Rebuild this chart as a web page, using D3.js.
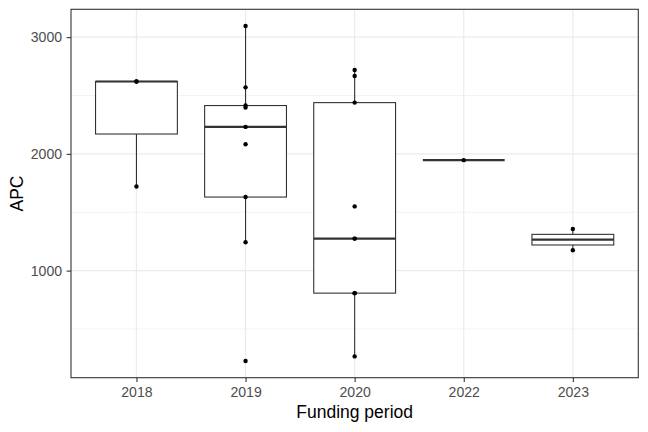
<!DOCTYPE html>
<html>
<head>
<meta charset="utf-8">
<script src="https://cdn.jsdelivr.net/npm/d3@7"></script>
<style>
	body { margin: 0; background: #fff; }
	text { font-family: "Liberation Sans", Arial, sans-serif; }
</style>
</head>
<body>
<svg id="chart" width="648" height="432"></svg>
<script>
'use strict'

// categories and APC values per funding period
const periods = ['2018', '2019', '2020', '2022', '2023'];
const apc2018 = [1720, 2620, 2620];
const apc2019 = [226, 1243, 1630, 2083, 2231, 2397, 2414, 2570, 3095];
const apc2020 = [265, 807, 807, 1274, 1274, 1550, 2439, 2667, 2718];
const apc2022 = [1946];
const apc2023 = [1174, 1356];
const yTicks = [1000, 2000, 3000];
const yMinor = [500, 1500, 2500];

const series = [apc2018, apc2019, apc2020, apc2022, apc2023];

let width = 648,
	height = 432,
	margin = {top: 9.3, right: 9.7, bottom: 54.3, left: 71};

let svg = d3.select('#chart');

let all = series.flat(),
	lo = d3.min(all),
	hi = d3.max(all),
	pad = (hi - lo) * 0.05;

let x = d3.scalePoint()
	.domain(periods)
	.range([margin.left, width - margin.right])
	.padding(0.6);

let y = d3.scaleLinear()
	.domain([lo - pad, hi + pad])
	.range([height - margin.bottom, margin.top]);

let step = x.step(),
	boxW = step * 0.75;

// grid
let grid = svg.append('g');
grid.selectAll('.minor').data(yMinor).enter().append('line')
	.attr('x1', margin.left).attr('x2', width - margin.right)
	.attr('y1', d => y(d)).attr('y2', d => y(d))
	.attr('stroke', '#EBEBEB').attr('stroke-width', 0.6);
grid.selectAll('.major').data(yTicks).enter().append('line')
	.attr('x1', margin.left).attr('x2', width - margin.right)
	.attr('y1', d => y(d)).attr('y2', d => y(d))
	.attr('stroke', '#EBEBEB').attr('stroke-width', 1.2);
grid.selectAll('.vmajor').data(periods).enter().append('line')
	.attr('x1', d => x(d)).attr('x2', d => x(d))
	.attr('y1', margin.top).attr('y2', height - margin.bottom)
	.attr('stroke', '#EBEBEB').attr('stroke-width', 1.2);

// boxplots
let stats = series.map(function(vals, i) {
	let s = vals.slice().sort(d3.ascending),
		q1 = d3.quantile(s, 0.25),
		med = d3.quantile(s, 0.5),
		q3 = d3.quantile(s, 0.75),
		iqr = q3 - q1,
		inside = s.filter(v => v >= q1 - 1.5 * iqr && v <= q3 + 1.5 * iqr);
	return {key: periods[i], q1: q1, med: med, q3: q3, lo: d3.min(inside), hi: d3.max(inside)};
});

let boxes = svg.append('g');
stats.forEach(function(d) {
	let cx = x(d.key);
	boxes.append('line')
		.attr('x1', cx).attr('x2', cx)
		.attr('y1', y(d.q3)).attr('y2', y(d.hi))
		.attr('stroke', '#333333').attr('stroke-width', 1.1);
	boxes.append('line')
		.attr('x1', cx).attr('x2', cx)
		.attr('y1', y(d.q1)).attr('y2', y(d.lo))
		.attr('stroke', '#333333').attr('stroke-width', 1.1);
	boxes.append('rect')
		.attr('x', cx - boxW / 2).attr('width', boxW)
		.attr('y', y(d.q3)).attr('height', y(d.q1) - y(d.q3))
		.attr('fill', '#fff').attr('stroke', '#333333').attr('stroke-width', 1.1);
	boxes.append('line')
		.attr('x1', cx - boxW / 2).attr('x2', cx + boxW / 2)
		.attr('y1', y(d.med)).attr('y2', y(d.med))
		.attr('stroke', '#333333').attr('stroke-width', 2.2);
});

// points
let pts = svg.append('g');
series.forEach(function(vals, i) {
	pts.selectAll(null).data(vals).enter().append('circle')
		.attr('cx', x(periods[i]))
		.attr('cy', d => y(d))
		.attr('r', 2.2)
		.attr('fill', '#000');
});

// panel border
svg.append('rect')
	.attr('x', margin.left).attr('y', margin.top)
	.attr('width', width - margin.left - margin.right)
	.attr('height', height - margin.top - margin.bottom)
	.attr('fill', 'none').attr('stroke', '#333333').attr('stroke-width', 1.1);

// axes
let xAxis = svg.append('g')
	.attr('transform', `translate(0,${height - margin.bottom})`)
	.call(d3.axisBottom(x).tickSize(4.4).tickPadding(4.5));
let yAxis = svg.append('g')
	.attr('transform', `translate(${margin.left},0)`)
	.call(d3.axisLeft(y).tickValues(yTicks).tickFormat(d3.format('d')).tickSize(4.4).tickPadding(4.5));

[xAxis, yAxis].forEach(function(ax) {
	ax.select('.domain').remove();
	ax.selectAll('.tick line').attr('stroke', '#333333').attr('stroke-width', 1.1);
	ax.selectAll('.tick text')
		.attr('fill', '#4D4D4D')
		.style('font-size', '14.1px')
		.style('font-family', '"Liberation Sans", Arial, sans-serif');
});

// axis titles
svg.append('text')
	.attr('x', margin.left + (width - margin.left - margin.right) / 2)
	.attr('y', 418)
	.attr('text-anchor', 'middle')
	.style('font-size', '17.5px')
	.attr('fill', '#000')
	.text('Funding period');

svg.append('text')
	.attr('transform', `translate(23,${margin.top + (height - margin.top - margin.bottom) / 2}) rotate(-90)`)
	.attr('text-anchor', 'middle')
	.style('font-size', '17.5px')
	.attr('fill', '#000')
	.text('APC');
</script>
</body>
</html>
